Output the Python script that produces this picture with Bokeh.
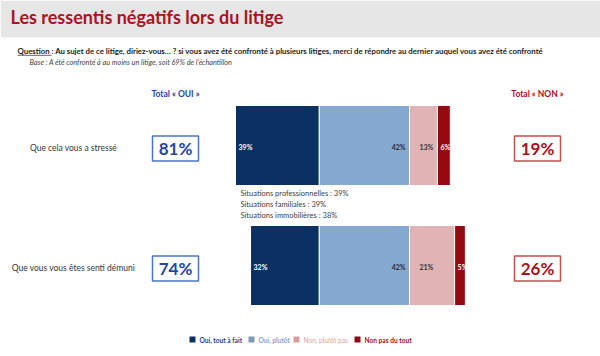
from bokeh.plotting import figure
from bokeh.models import Range1d, Label, ColumnDataSource
from bokeh.core.properties import value
from bokeh.embed import file_html
from bokeh.resources import INLINE

# ---------------- data ----------------
rows = ["Que cela vous a stressé", "Que vous vous êtes senti démuni"]
oui_tout_a_fait = [39, 32]
oui_plutot = [42, 42]
non_plutot_pas = [13, 21]
non_pas_du_tout = [6, 5]
total_oui = [81, 74]
total_non = [19, 26]
series_names = ["Oui, tout à fait", "Oui, plutôt", "Non, plutôt pas", "Non pas du tout"]
notes = ["Situations professionnelles : 39%", "Situations familiales : 39%",
         "Situations immobilières : 38%"]
title = "Les ressentis négatifs lors du litige"
question = ("Au sujet de ce litige, diriez-vous… ?  si vous avez été confronté à plusieurs "
            "litiges, merci de répondre au dernier auquel vous avez été confronté")
base = "Base : A été confronté à au moins un litige, soit 69% de l’échantillon"

# ---------------- style / layout ----------------
W, H = 600, 356
S = 2.148      # px per percent
X0 = 409       # pixel of the Oui/Non boundary
FONT = "Lato"
C_DB, C_LB, C_PK, C_DR = "#0b3162", "#85a9d0", "#e0b3b5", "#950a10"
BLUE_TXT, RED_TXT = "#2447a3", "#a8121e"
row_y = [145, 265]
bar_h = 80

def px(x):
    return (x - X0) / S

p = figure(width=W, height=H, output_backend="svg", toolbar_location=None,
           x_range=Range1d(px(0), px(W)), y_range=Range1d(H, 0),
           min_border=0, min_border_left=0, min_border_right=0,
           min_border_top=0, min_border_bottom=0)
p.axis.visible = False
p.grid.visible = False
p.outline_line_color = None
p.background_fill_color = "white"

def lab(x, y, text, size, color, style="normal", align="left", baseline="middle"):
    p.add_layout(Label(x=px(x), y=y, text=text, text_font=FONT, text_font_size=f"{size}px",
                       text_color=color, text_font_style=style, text_align=align,
                       text_baseline=baseline))

# header band
p.quad(left=[px(0)], right=[px(W)], top=[0], bottom=[37], fill_color="#e6e6e6", line_color=None)
lab(10, 16, title, 18, "#ad1220", "bold")
lab(17, 50, "Question", 7.8, "#222222", "bold")
p.segment(x0=[px(17)], x1=[px(51)], y0=[54.8], y1=[54.8], line_color="#222222", line_width=0.7)
lab(51, 50, " : " + question, 7.8, "#222222", "bold")
lab(29, 62, base, 7.3, "#444444", "italic")

# totals headers
lab(175, 93, "Total « OUI »", 8.5, BLUE_TXT, "bold", "center")
lab(537, 93, "Total « NON »", 8.5, RED_TXT, "bold", "center")

# bars (diverging around the Oui/Non boundary)
lefts, rights, ys, cols = [], [], [], []
for i in range(len(rows)):
    start = -(oui_tout_a_fait[i] + oui_plutot[i])
    segs = [oui_tout_a_fait[i], oui_plutot[i], non_plutot_pas[i], non_pas_du_tout[i]]
    cur = start
    for v, c in zip(segs, [C_DB, C_LB, C_PK, C_DR]):
        lefts.append(cur); rights.append(cur + v); ys.append(row_y[i]); cols.append(c)
        cur += v
src = ColumnDataSource(dict(left=lefts, right=rights, y=ys, color=cols))
p.hbar(y="y", left="left", right="right", height=bar_h, fill_color="color",
       line_color="white", line_width=1, source=src)

# bar value labels
lx, ly, lt, lc, la = [], [], [], [], []
for i in range(len(rows)):
    start = -(oui_tout_a_fait[i] + oui_plutot[i])
    lx.append(start + 3 / S); ly.append(row_y[i] + 1); lt.append(f"{oui_tout_a_fait[i]}%"); lc.append("white"); la.append("left")
    lx.append(-4 / S); ly.append(row_y[i] + 1); lt.append(f"{oui_plutot[i]}%"); lc.append("#1d2b45"); la.append("right")
    lx.append(10 / S); ly.append(row_y[i] + 1); lt.append(f"{non_plutot_pas[i]}%"); lc.append("#333333"); la.append("left")
    lx.append(non_plutot_pas[i] + 3 / S); ly.append(row_y[i] + 1); lt.append(f"{non_pas_du_tout[i]}%"); lc.append("white"); la.append("left")
lsrc = ColumnDataSource(dict(x=lx, y=ly, t=lt, c=lc, a=la))
p.text(x="x", y="y", text="t", text_color="c", text_align="a", text_baseline="middle",
       text_font=value(FONT), text_font_size="7px", text_font_style="bold", source=lsrc)

# row labels
for i, r in enumerate(rows):
    lab(73, row_y[i] + 2, r, 8.5, "#333333", "normal", "center")

# total boxes
box_w = 46 / S
p.rect(x=[px(175)] * 2, y=[r + 3 for r in row_y], width=box_w, height=25,
       fill_color="white", line_color="#4b74c6", line_width=1.5)
p.rect(x=[px(537)] * 2, y=[r + 3 for r in row_y], width=box_w, height=25,
       fill_color="white", line_color="#c0504d", line_width=1.5)
for i in range(len(rows)):
    lab(175, row_y[i] + 3, f"{total_oui[i]}%", 17, BLUE_TXT, "bold", "center")
    lab(537, row_y[i] + 3, f"{total_non[i]}%", 17, RED_TXT, "bold", "center")

# notes under first bar
for k, n in enumerate(notes):
    lab(240, 193 + 11 * k, n, 7.5, "#404040")

# legend
leg_sq = [192, 251, 296, 357]
leg_col = [C_DB, "#7e9bbd", "#d99ca0", C_DR]
leg_txt_col = ["#1f3f99", "#7fa6d2", "#d9a0a4", "#a0101a"]
leg_style = ["bold", "bold", "normal", "bold"]
p.scatter(x=[px(v) for v in leg_sq], y=[339] * 4, marker="square", size=6,
          fill_color=leg_col, line_color=None)
for k, name in enumerate(series_names):
    lab(leg_sq[k] + 7, 339, name, 6.6, leg_txt_col[k], leg_style[k])

open("out.html", "w").write(file_html(p, INLINE))
